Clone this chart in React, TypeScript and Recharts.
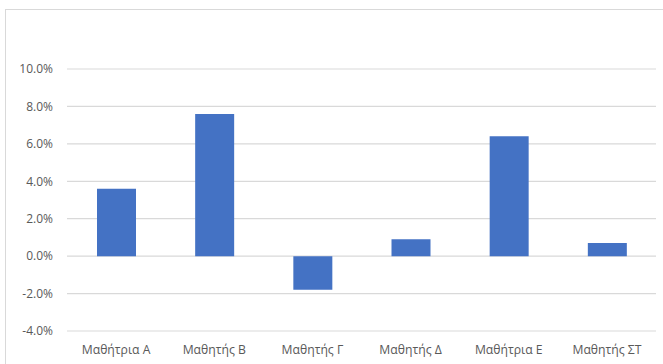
import React from 'react';
import { BarChart, Bar, XAxis, YAxis, CartesianGrid } from 'recharts';

const students = ['Μαθήτρια Α', 'Μαθητής Β', 'Μαθητής Γ', 'Μαθητής Δ', 'Μαθήτρια Ε', 'Μαθητής ΣΤ'];
const changes = [0.036, 0.076, -0.018, 0.009, 0.064, 0.007];
const yTicks = [-0.04, -0.02, 0, 0.02, 0.04, 0.06, 0.08, 0.1];

const data = students.map((name, i) => ({ name, value: changes[i] }));

const fontFamily = '"Open Sans", "Noto Sans", sans-serif';

export default function App() {
  return (
    <div style={{ position: 'absolute', left: 0, top: 0, width: 663, height: 364, background: '#fff' }}>
      <div
        style={{
          position: 'absolute',
          left: 5,
          top: 9,
          width: 658,
          height: 355,
          borderTop: '1px solid #d9d9d9',
          borderLeft: '1px solid #d9d9d9',
          boxSizing: 'border-box',
        }}
      />
      <div style={{ position: 'absolute', left: 0, top: 0 }}>
        <BarChart
          width={663}
          height={364}
          data={data}
          margin={{ top: 69, right: 7, bottom: 8, left: 0 }}
        >
          <CartesianGrid vertical={false} stroke="#d9d9d9" strokeWidth={1.2} />
          <XAxis
            dataKey="name"
            axisLine={false}
            tickLine={false}
            tickSize={0}
            tickMargin={14}
            height={25}
            interval={0}
            tick={{ fill: '#595959', fontSize: 12.2, fontFamily }}
          />
          <YAxis
            domain={[-0.04, 0.1]}
            ticks={yTicks}
            axisLine={false}
            tickLine={false}
            tickSize={0}
            tickMargin={14}
            width={67}
            interval={0}
            tickFormatter={(v: number) => (v * 100).toFixed(1) + '%'}
            tick={{ fill: '#595959', fontSize: 12, fontFamily }}
          />
          <Bar dataKey="value" fill="#4472c4" barSize={39} isAnimationActive={false} />
        </BarChart>
      </div>
    </div>
  );
}
